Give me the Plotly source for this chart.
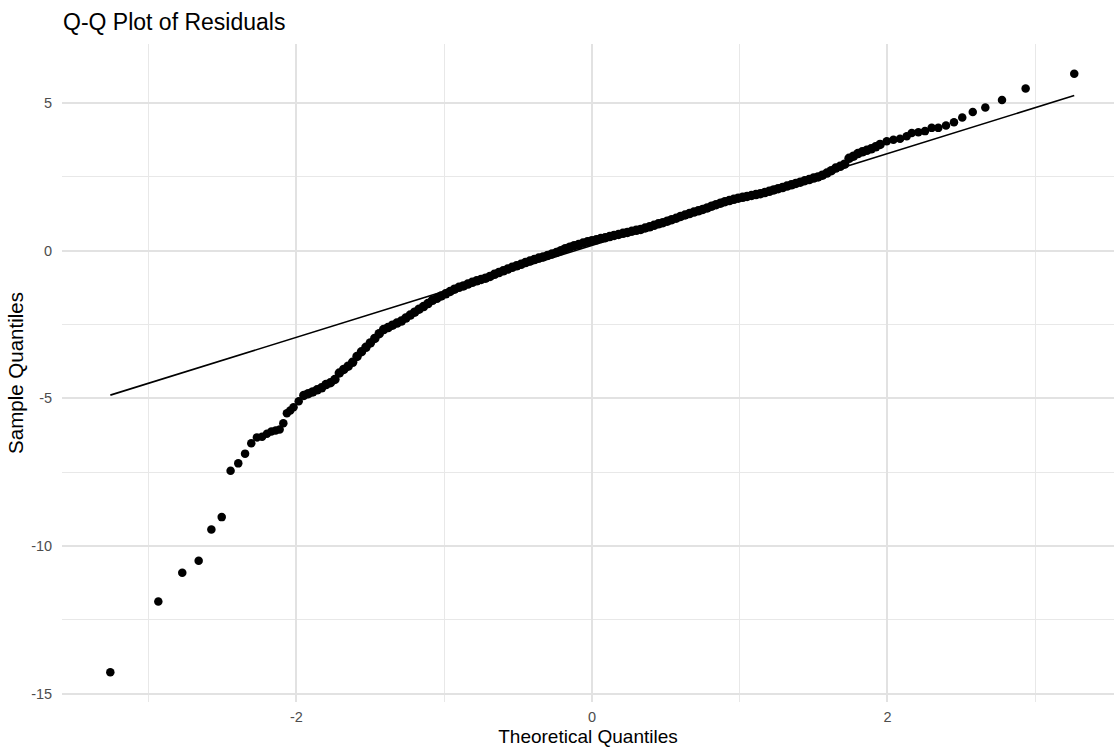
import plotly.graph_objects as go

# Residual Q-Q points: theoretical quantile (x) and sample quantile (y)
tail_low_x = [-3.260, -2.935, -2.773, -2.662, -2.576, -2.506, -2.446, -2.394, -2.348, -2.306,
              -2.268, -2.233, -2.200, -2.170, -2.141, -2.114, -2.089, -2.065, -2.042, -2.020, -1.985]
tail_low_y = [-14.27, -11.88, -10.90, -10.50, -9.44, -9.02, -7.45, -7.20, -6.87, -6.52,
              -6.32, -6.30, -6.20, -6.12, -6.09, -6.05, -5.84, -5.50, -5.41, -5.30, -5.10]

body_x = [-1.95, -1.92, -1.89, -1.86, -1.83, -1.80, -1.77, -1.74, -1.71, -1.68,
          -1.65, -1.62, -1.59, -1.56, -1.53, -1.50, -1.47, -1.44, -1.41, -1.38,
          -1.35, -1.32, -1.29, -1.26, -1.23, -1.20, -1.17, -1.14, -1.11, -1.08,
          -1.05, -1.02, -0.99, -0.96, -0.93, -0.90, -0.87, -0.84, -0.81, -0.78,
          -0.75, -0.72, -0.69, -0.66, -0.63, -0.60, -0.57, -0.54, -0.51, -0.48,
          -0.45, -0.42, -0.39, -0.36, -0.33, -0.30, -0.27, -0.24, -0.21, -0.18,
          -0.15, -0.12, -0.09, -0.06, -0.03, 0.00, 0.03, 0.06, 0.09, 0.12,
          0.15, 0.18, 0.21, 0.24, 0.27, 0.30, 0.33, 0.36, 0.39, 0.42,
          0.45, 0.48, 0.51, 0.54, 0.57, 0.60, 0.63, 0.66, 0.69, 0.72,
          0.75, 0.78, 0.81, 0.84, 0.87, 0.90, 0.93, 0.96, 0.99, 1.02,
          1.05, 1.08, 1.11, 1.14, 1.17, 1.20, 1.23, 1.26, 1.29, 1.32,
          1.35, 1.38, 1.41, 1.44, 1.47, 1.50, 1.53, 1.56, 1.59, 1.62,
          1.65, 1.68, 1.71, 1.74, 1.77, 1.80, 1.83, 1.86, 1.89, 1.92, 1.95]
body_y = [-4.90, -4.84, -4.78, -4.71, -4.64, -4.53, -4.47, -4.36, -4.14, -4.02,
          -3.91, -3.78, -3.58, -3.42, -3.27, -3.12, -2.97, -2.81, -2.67, -2.60,
          -2.52, -2.45, -2.38, -2.28, -2.18, -2.08, -1.98, -1.89, -1.79, -1.68,
          -1.61, -1.53, -1.46, -1.38, -1.30, -1.24, -1.19, -1.13, -1.07, -1.02,
          -0.97, -0.93, -0.87, -0.80, -0.74, -0.68, -0.62, -0.56, -0.51, -0.46,
          -0.40, -0.35, -0.30, -0.25, -0.21, -0.16, -0.11, -0.06, 0.00, 0.07,
          0.12, 0.17, 0.21, 0.26, 0.30, 0.34, 0.37, 0.41, 0.44, 0.48,
          0.52, 0.55, 0.59, 0.62, 0.66, 0.69, 0.72, 0.77, 0.81, 0.86,
          0.91, 0.95, 1.00, 1.05, 1.10, 1.16, 1.21, 1.26, 1.31, 1.35,
          1.40, 1.45, 1.51, 1.56, 1.61, 1.66, 1.70, 1.74, 1.78, 1.81,
          1.84, 1.87, 1.90, 1.93, 1.97, 2.01, 2.06, 2.10, 2.14, 2.19,
          2.23, 2.28, 2.32, 2.37, 2.41, 2.46, 2.50, 2.56, 2.63, 2.71,
          2.80, 2.86, 2.93, 3.13, 3.20, 3.29, 3.35, 3.40, 3.45, 3.52, 3.60]

tail_high_x = [1.995, 2.040, 2.085, 2.130, 2.164, 2.209, 2.254, 2.299, 2.344, 2.396,
               2.450, 2.506, 2.577, 2.662, 2.775, 2.935, 3.264]
tail_high_y = [3.71, 3.76, 3.79, 3.88, 3.99, 4.01, 4.05, 4.16, 4.16, 4.24,
               4.35, 4.51, 4.70, 4.85, 5.10, 5.49, 5.99]

# Reference line (through the quartiles of the residuals)
line_slope = 1.555
line_intercept = 0.18

x_ticks = [-2, 0, 2]
y_ticks = [-15, -10, -5, 0, 5]
x_minor = [-3, -1, 1, 3]
y_minor = [-12.5, -7.5, -2.5, 2.5]

all_x = tail_low_x + body_x + tail_high_x
line_x = [min(all_x), max(all_x)]
line_y = [line_intercept + line_slope * v for v in line_x]

FONT = "Liberation Sans, Arial, Helvetica, sans-serif"

fig = go.Figure()
# sparse tails
fig.add_trace(go.Scatter(
    x=tail_low_x + tail_high_x, y=tail_low_y + tail_high_y, mode="markers",
    marker=dict(color="black", size=8.5, line=dict(width=0)),
    hoverinfo="x+y", showlegend=False,
))
# dense centre of the distribution
fig.add_trace(go.Scatter(
    x=body_x, y=body_y, mode="markers",
    marker=dict(color="black", size=9.5, line=dict(width=0)),
    hoverinfo="x+y", showlegend=False,
))
fig.add_trace(go.Scatter(
    x=line_x, y=line_y, mode="lines",
    line=dict(color="black", width=1.6),
    hoverinfo="skip", showlegend=False,
))

fig.update_layout(
    width=1114, height=751, autosize=False,
    margin=dict(l=62, r=0, t=44, b=49),
    paper_bgcolor="white", plot_bgcolor="white",
    font=dict(family=FONT, color="black"),
    title=dict(
        text="Q-Q Plot of Residuals",
        x=63 / 1114, xref="container", xanchor="left",
        y=1 - 22 / 751, yref="container", yanchor="middle",
        font=dict(size=23, color="black", family=FONT),
    ),
)

fig.update_xaxes(
    range=[-3.587, 3.533],
    tickmode="array", tickvals=x_ticks, ticktext=[str(v) for v in x_ticks],
    tickfont=dict(size=14.5, color="#4d4d4d"),
    ticks="outside", ticklen=2, tickcolor="rgba(0,0,0,0)",
    showgrid=True, gridcolor="#e2e2e2", gridwidth=1.6,
    minor=dict(tickvals=x_minor, showgrid=True, gridcolor="#e8e8e8", gridwidth=1.2),
    zeroline=False, showline=False,
    title=dict(text="Theoretical Quantiles", font=dict(size=19, color="black"), standoff=5),
)
fig.update_yaxes(
    range=[-15.28, 7.0],
    tickmode="array", tickvals=y_ticks, ticktext=[str(v) for v in y_ticks],
    tickfont=dict(size=14.5, color="#4d4d4d"),
    ticks="outside", ticklen=6, tickcolor="rgba(0,0,0,0)",
    showgrid=True, gridcolor="#e2e2e2", gridwidth=1.6,
    minor=dict(tickvals=y_minor, showgrid=True, gridcolor="#e8e8e8", gridwidth=1.2),
    zeroline=False, showline=False,
    title=dict(text="Sample Quantiles", font=dict(size=20.5, color="black"), standoff=1),
)

fig.write_html("out.html")
